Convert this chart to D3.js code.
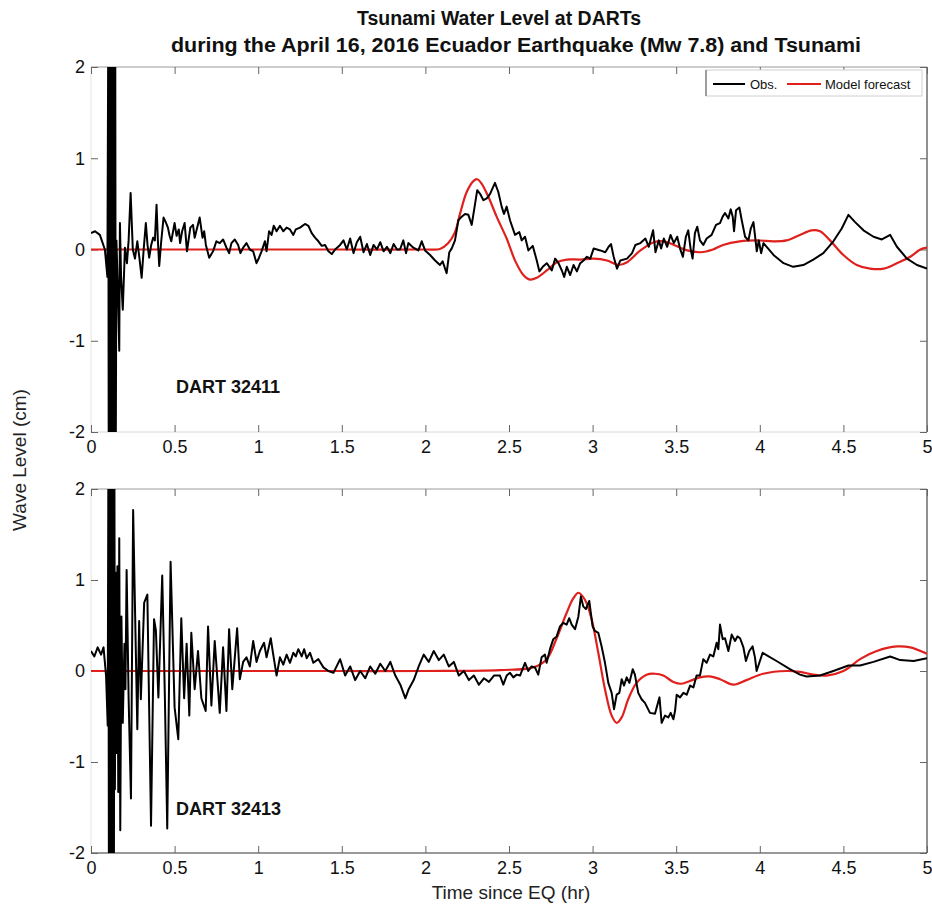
<!DOCTYPE html>
<html>
<head>
<meta charset="utf-8">
<script src="https://cdn.jsdelivr.net/npm/d3@7"></script>
<style>
  html, body { margin: 0; padding: 0; background: #fff; }
  svg { display: block; font-family: "Liberation Sans", Arial, Helvetica, sans-serif; }
</style>
</head>
<body>
<svg id="chart" width="932" height="907"></svg>
<script>
// ---------------- DATA ----------------
const titleLines = ["Tsunami Water Level at DARTs",
  "during the April 16, 2016 Ecuador Earthquake (Mw 7.8) and Tsunami"];
const stationNames = ["DART 32411", "DART 32413"];
const seriesNames = ["Obs.", "Model forecast"];
const xTicks = [0, 0.5, 1, 1.5, 2, 2.5, 3, 3.5, 4, 4.5, 5];
const yTicks = [-2, -1, 0, 1, 2];

// DART 32411 observed [time hr, level cm]
const obs1 = [
[0,0.18],[0.024,0.2],[0.053,0.16],[0.083,0],[0.098,-0.3],
[0.103,2.3],[0.106,-2.3],[0.109,2.3],[0.112,-2.3],[0.115,2.3],[0.118,-2.3],[0.121,2.3],[0.124,-2.3],
[0.127,2.3],[0.130,-2.3],[0.133,2.3],[0.136,-2.3],[0.139,2.3],[0.142,-2.3],[0.145,2.3],[0.148,-2.3],
[0.152,0.1],[0.16,-0.4],[0.169,-1.11],[0.173,0.29],[0.18,-0.3],[0.19,-0.66],[0.203,0.02],[0.215,-0.15],
[0.225,0.1],[0.237,0.62],[0.25,0.0],[0.263,-0.1],[0.277,0.09],[0.29,-0.1],[0.303,-0.31],[0.315,0.0],
[0.328,0.29],[0.338,0.05],[0.348,-0.09],[0.36,0.05],[0.372,0.13],[0.382,0.1],[0.392,0.49],[0.4,0.1],
[0.408,-0.18],[0.42,0.09],[0.434,0.35],[0.447,0.3],[0.46,0.24],[0.47,0.15],[0.48,0.09],[0.5,0.29],
[0.512,0.15],[0.525,0.22],[0.533,0.07],[0.545,0.2],[0.56,0.29],[0.574,-0.02],[0.594,0.24],[0.61,0.27],
[0.62,0.13],[0.65,0.35],[0.667,0.13],[0.677,0.2],[0.687,0.05],[0.707,-0.09],[0.73,-0.02],[0.75,0.09],
[0.77,0.07],[0.79,0.11],[0.81,0.02],[0.826,-0.04],[0.84,0.07],[0.86,0.11],[0.88,0.05],[0.894,-0.04],
[0.91,0.02],[0.93,0.07],[0.95,0],[0.97,-0.02],[0.99,-0.15],[1.005,-0.09],[1.02,-0.02],[1.04,0.09],
[1.05,-0.02],[1.065,0.2],[1.08,0.16],[1.093,0.26],[1.11,0.2],[1.13,0.26],[1.15,0.2],[1.17,0.24],
[1.19,0.22],[1.21,0.16],[1.225,0.22],[1.25,0.24],[1.28,0.28],[1.3,0.26],[1.32,0.18],[1.34,0.13],
[1.36,0.09],[1.38,0.04],[1.4,0.05],[1.42,-0.02],[1.44,-0.05],[1.46,0],[1.49,0.05],
[1.51,0.1],[1.53,0.0],[1.55,0.12],[1.57,-0.04],[1.59,0.08],[1.61,0.14],[1.63,-0.03],[1.65,0.06],
[1.67,-0.06],[1.69,0.05],[1.71,0.0],[1.73,0.08],[1.75,-0.02],[1.77,0.03],[1.79,-0.04],[1.81,0.06],
[1.83,0.0],[1.848,0],[1.868,0.1],[1.884,-0.04],[1.898,0.07],[1.928,0.02],[1.958,-0.01],[1.978,0.09],
[1.998,-0.01],[2.028,-0.06],[2.058,-0.12],[2.087,-0.17],[2.103,-0.13],[2.127,-0.26],[2.143,-0.03],
[2.157,0.01],[2.177,0.1],[2.197,0.32],[2.217,0.36],[2.237,0.39],[2.257,0.38],[2.277,0.27],[2.297,0.5],
[2.31,0.65],[2.327,0.61],[2.347,0.54],[2.367,0.56],[2.387,0.61],[2.416,0.73],[2.436,0.63],[2.456,0.47],
[2.47,0.39],[2.486,0.47],[2.506,0.32],[2.536,0.16],[2.562,0.19],[2.576,0.1],[2.596,0.14],[2.616,-0.01],
[2.642,0.04],[2.666,-0.12],[2.682,-0.24],[2.702,-0.19],[2.726,-0.15],[2.756,-0.23],[2.776,-0.1],
[2.796,-0.15],[2.816,-0.23],[2.83,-0.3],[2.846,-0.19],[2.866,-0.28],[2.886,-0.17],[2.906,-0.24],
[2.926,-0.15],[2.946,-0.12],[2.966,-0.08],[2.986,-0.1],[3.006,0.01],[3.046,-0.01],[3.076,-0.03],
[3.096,0.03],[3.11,0.06],[3.126,-0.08],[3.146,-0.21],[3.166,-0.12],[3.206,-0.1],[3.236,-0.04],
[3.256,0.05],[3.286,0.07],[3.316,0.12],[3.336,0.03],[3.362,0.21],[3.376,-0.03],[3.396,0.1],[3.41,0.01],
[3.426,0.12],[3.446,0.03],[3.466,0.16],[3.486,0.07],[3.506,0.14],[3.523,0.01],[3.54,-0.08],[3.558,0.14],
[3.572,0.21],[3.586,0.01],[3.598,-0.1],[3.612,0.18],[3.626,0.25],[3.642,0.1],[3.662,0.05],[3.682,0.12],
[3.712,0.16],[3.738,0.27],[3.762,0.29],[3.778,0.36],[3.792,0.4],[3.812,0.34],[3.826,0.44],[3.838,0.36],
[3.846,0.2],[3.858,0.43],[3.878,0.46],[3.892,0.32],[3.912,0.14],[3.932,0.1],[3.946,0.23],[3.962,0.3],
[3.972,0.14],[3.982,-0.02],[3.994,0.1],[4.008,-0.04],[4.022,0.07],[4.082,-0.06],[4.142,-0.15],
[4.2,-0.19],[4.26,-0.17],[4.32,-0.11],[4.38,-0.04],[4.44,0.09],[4.49,0.23],[4.53,0.38],[4.57,0.3],
[4.62,0.21],[4.68,0.14],[4.73,0.11],[4.78,0.16],[4.82,0.03],[4.88,-0.1],[4.94,-0.17],[5.0,-0.21]
];

// DART 32411 model forecast
const model1 = [
[0,0],[0.5,0],[1,0],[1.5,0],[2.0,0],[2.087,0.005],[2.137,0.07],[2.177,0.19],[2.207,0.39],[2.247,0.63],
[2.287,0.75],[2.31,0.77],[2.337,0.72],[2.376,0.58],[2.426,0.36],[2.486,0.12],[2.536,-0.12],[2.586,-0.28],
[2.626,-0.33],[2.666,-0.31],[2.726,-0.23],[2.786,-0.14],[2.846,-0.11],[2.926,-0.11],[3.006,-0.1],
[3.086,-0.12],[3.156,-0.17],[3.206,-0.14],[3.286,-0.01],[3.366,0.08],[3.426,0.09],[3.486,0.05],
[3.566,-0.01],[3.646,-0.03],[3.72,0.0],[3.78,0.05],[3.88,0.09],[3.982,0.1],[4.082,0.09],[4.16,0.1],
[4.24,0.16],[4.31,0.21],[4.36,0.2],[4.42,0.1],[4.5,-0.06],[4.58,-0.17],[4.66,-0.21],[4.74,-0.21],
[4.82,-0.15],[4.9,-0.08],[4.96,0.0],[5.0,0.02]
];

// DART 32413 observed
const obs2 = [
[0,0.22],[0.02,0.16],[0.04,0.26],[0.06,0.18],[0.075,0.26],[0.09,-0.05],[0.1,-0.6],
[0.104,2.3],[0.107,-2.3],[0.110,2.3],[0.113,-2.3],[0.116,2.3],[0.119,-2.3],[0.122,2.3],[0.125,-2.3],
[0.128,2.3],[0.131,-2.3],[0.134,2.3],[0.137,-2.3],[0.140,2.3],[0.143,-1.3],
[0.148,1.08],[0.153,-0.9],[0.158,1.15],[0.163,-1.33],[0.169,1.46],[0.175,-1.75],[0.182,0.6],
[0.19,-0.57],[0.2,0.3],[0.206,-0.2],[0.213,1.11],[0.225,-0.3],[0.239,-1.4],[0.252,1.77],
[0.277,-0.64],[0.288,0.55],[0.298,-0.31],[0.318,0.75],[0.337,0.84],[0.359,-1.7],[0.377,0.57],
[0.388,0.45],[0.403,-0.29],[0.426,1.05],[0.442,-0.3],[0.456,-1.73],[0.476,1.2],[0.5,-0.4],
[0.522,-0.75],[0.54,0.58],[0.557,-0.3],[0.572,0.3],[0.588,-0.49],[0.6,0.42],[0.62,-0.2],[0.64,0.22],
[0.66,-0.3],[0.686,-0.44],[0.7,0.49],[0.72,-0.38],[0.74,0.33],[0.77,-0.46],[0.79,0.26],[0.81,-0.44],
[0.826,0.46],[0.845,-0.2],[0.874,0.47],[0.89,-0.09],[0.91,0.1],[0.93,0.15],[0.95,0.05],[0.97,0.33],
[0.99,0.1],[1.01,0.22],[1.035,0.31],[1.05,0.15],[1.075,0.36],[1.09,0.18],[1.11,-0.05],[1.13,0.15],
[1.15,0.07],[1.17,0.18],[1.19,0.09],[1.21,0.2],[1.225,0.16],[1.24,0.24],[1.26,0.16],[1.275,0.24],
[1.29,0.14],[1.31,0.2],[1.33,0.09],[1.36,0.13],[1.39,0.04],[1.42,0],[1.45,-0.02],[1.49,0.13],
[1.52,-0.05],[1.55,0.05],[1.58,-0.1],[1.61,0.0],[1.64,-0.08],[1.67,0.05],[1.70,-0.03],[1.73,0.08],
[1.76,0.0],[1.79,0.1],[1.82,-0.05],[1.85,-0.15],[1.88,-0.3],[1.90,-0.2],[1.93,-0.1],[1.96,0.05],
[1.99,0.18],[2.02,0.1],[2.05,0.22],[2.08,0.12],[2.11,0.18],[2.14,0.05],[2.17,0.1],[2.2,-0.05],
[2.23,0.0],[2.26,-0.1],[2.29,-0.05],[2.32,-0.15],[2.35,-0.08],[2.38,-0.12],[2.41,-0.05],[2.446,-0.05],
[2.466,-0.15],[2.486,-0.05],[2.506,-0.02],[2.526,-0.07],[2.546,-0.04],[2.566,-0.05],[2.596,0.09],
[2.615,0],[2.635,0.05],[2.655,0.04],[2.675,-0.04],[2.695,0.15],[2.715,0.18],[2.725,0.09],[2.745,0.24],
[2.765,0.35],[2.785,0.38],[2.805,0.49],[2.825,0.53],[2.845,0.51],[2.86,0.58],[2.875,0.51],[2.895,0.46],
[2.915,0.6],[2.93,0.82],[2.944,0.71],[2.96,0.68],[2.98,0.77],[3.0,0.49],[3.014,0.44],[3.034,0.42],
[3.054,0.27],[3.074,0.09],[3.094,-0.13],[3.114,-0.24],[3.128,-0.42],[3.144,-0.26],[3.16,-0.24],
[3.174,-0.09],[3.188,-0.16],[3.204,-0.07],[3.22,-0.13],[3.24,0.02],[3.253,-0.04],[3.273,-0.24],
[3.293,-0.31],[3.313,-0.35],[3.343,-0.46],[3.373,-0.47],[3.4,-0.29],[3.413,-0.57],[3.433,-0.49],
[3.453,-0.51],[3.467,-0.46],[3.483,-0.53],[3.493,-0.44],[3.503,-0.26],[3.523,-0.29],[3.543,-0.24],
[3.563,-0.26],[3.583,-0.16],[3.603,-0.18],[3.622,-0.05],[3.642,-0.05],[3.662,0.13],[3.682,0.09],
[3.702,0.18],[3.722,0.16],[3.742,0.31],[3.752,0.24],[3.762,0.51],[3.778,0.35],[3.792,0.36],[3.812,0.22],
[3.832,0.4],[3.852,0.33],[3.866,0.38],[3.882,0.36],[3.902,0.26],[3.917,0.11],[3.937,0.22],[3.957,0.27],
[3.971,0.15],[3.981,0],[4.017,0.2],[4.1,0.11],[4.18,0.02],[4.24,-0.04],[4.28,-0.06],[4.36,-0.05],
[4.44,0],[4.53,0.06],[4.6,0.06],[4.68,0.1],[4.78,0.16],[4.84,0.12],[4.92,0.11],[5.0,0.14]
];

// DART 32413 model forecast
const model2 = [
[0,0],[0.5,0],[1,0],[1.5,0],[2.0,0],[2.446,0.01],[2.645,0.04],[2.725,0.13],[2.785,0.36],[2.845,0.64],
[2.885,0.8],[2.915,0.86],[2.955,0.78],[2.994,0.57],[3.034,0.2],[3.074,-0.2],[3.114,-0.49],[3.144,-0.57],
[3.174,-0.51],[3.213,-0.31],[3.263,-0.13],[3.323,-0.04],[3.373,-0.03],[3.423,-0.05],[3.483,-0.12],
[3.532,-0.14],[3.582,-0.11],[3.642,-0.07],[3.702,-0.06],[3.762,-0.09],[3.842,-0.15],[3.92,-0.1],
[4.02,-0.03],[4.16,0],[4.24,-0.01],[4.32,-0.04],[4.4,-0.05],[4.5,0],[4.6,0.13],[4.7,0.22],[4.82,0.27],
[4.9,0.26],[5.0,0.19]
];

// ---------------- DRAWING ----------------
const svg = d3.select("#chart");
const RED = "#e0201c";
const x = d3.scaleLinear().domain([0, 5]).range([91, 927]);
const panels = [
  { obs: obs1, model: model1, name: stationNames[0], y: d3.scaleLinear().domain([-2, 2]).range([432, 67]),
    labelY: 393, bottomColor: "#d8d8d8", legend: true },
  { obs: obs2, model: model2, name: stationNames[1], y: d3.scaleLinear().domain([-2, 2]).range([853, 489]),
    labelY: 815, bottomColor: "#333", legend: false }
];
const fmt = d => String(d);   // plain hyphen-minus like the original

panels.forEach((p, i) => {
  const y = p.y;
  const [x0, x1] = x.range();
  const [yb, yt] = y.range();
  const g = svg.append("g");

  const clipId = "clip" + i;
  svg.append("clipPath").attr("id", clipId).append("rect")
    .attr("x", x0).attr("y", yt).attr("width", x1 - x0).attr("height", yb - yt);

  // frame
  g.append("line").attr("x1", x0).attr("x2", x1).attr("y1", yt).attr("y2", yt).attr("stroke", "#9a9a9a").attr("stroke-width", 1);
  g.append("line").attr("x1", x0).attr("x2", x1).attr("y1", yb).attr("y2", yb).attr("stroke", p.bottomColor).attr("stroke-width", 1);
  g.append("line").attr("x1", x0).attr("x2", x0).attr("y1", yt).attr("y2", yb).attr("stroke", "#e4e4e4").attr("stroke-width", 1);
  g.append("line").attr("x1", x1).attr("x2", x1).attr("y1", yt).attr("y2", yb).attr("stroke", "#222").attr("stroke-width", 1);

  // axes (ticks inward)
  const bottom = g.append("g").attr("transform", `translate(0,${yb})`)
    .call(d3.axisBottom(x).tickValues(xTicks).tickSizeInner(-7).tickSizeOuter(0).tickPadding(12).tickFormat(fmt));
  const top = g.append("g").attr("transform", `translate(0,${yt})`)
    .call(d3.axisTop(x).tickValues(xTicks).tickSizeInner(-7).tickSizeOuter(0).tickFormat(""));
  const left = g.append("g").attr("transform", `translate(${x0},0)`)
    .call(d3.axisLeft(y).tickValues(yTicks).tickSizeInner(-7).tickSizeOuter(0).tickPadding(6).tickFormat(fmt));
  const right = g.append("g").attr("transform", `translate(${x1},0)`)
    .call(d3.axisRight(y).tickValues(yTicks).tickSizeInner(-7).tickSizeOuter(0).tickFormat(""));
  [bottom, top, left, right].forEach(a => {
    a.select(".domain").remove();
    a.selectAll(".tick line").attr("stroke", "#666").attr("stroke-width", 1);
  });
  bottom.selectAll(".tick text").attr("font-size", 18).attr("fill", "#111")
    .attr("font-family", "Liberation Sans, Arial, sans-serif").attr("dy", "0.5em");
  left.selectAll(".tick text").attr("font-size", 18).attr("fill", "#111")
    .attr("font-family", "Liberation Sans, Arial, sans-serif");

  const plot = g.append("g").attr("clip-path", `url(#${clipId})`);
  // model
  plot.append("path").datum(p.model)
    .attr("fill", "none").attr("stroke", RED).attr("stroke-width", 2.2)
    .attr("d", d3.line().x(d => x(d[0])).y(d => y(d[1])).curve(d3.curveCatmullRom.alpha(0.5)));
  // observed
  plot.append("path").datum(p.obs)
    .attr("fill", "none").attr("stroke", "#000").attr("stroke-width", 2).attr("stroke-linejoin", "round")
    .attr("d", d3.line().x(d => x(d[0])).y(d => y(d[1])));

  g.append("text").attr("x", 176).attr("y", p.labelY)
    .attr("font-size", 18).attr("font-weight", "bold").attr("fill", "#111").text(p.name);

  if (p.legend) {
    const lg = g.append("g");
    lg.append("rect").attr("x", 706).attr("y", 70).attr("width", 216).attr("height", 26)
      .attr("fill", "#fff").attr("stroke", "#d0d0d0").attr("stroke-width", 1);
    lg.append("line").attr("x1", 706).attr("x2", 706).attr("y1", 70).attr("y2", 96).attr("stroke", "#555");
    const ly = 84;
    lg.append("line").attr("x1", 713).attr("x2", 745).attr("y1", ly).attr("y2", ly).attr("stroke", "#000").attr("stroke-width", 2);
    lg.append("text").attr("x", 750).attr("y", ly + 4.5).attr("font-size", 13).attr("fill", "#111").text(seriesNames[0]);
    lg.append("line").attr("x1", 787).attr("x2", 821).attr("y1", ly).attr("y2", ly).attr("stroke", RED).attr("stroke-width", 2.2);
    lg.append("text").attr("x", 825).attr("y", ly + 4.5).attr("font-size", 13).attr("fill", "#111").text(seriesNames[1]);
  }
});

// titles
svg.append("text").attr("x", 357).attr("y", 25)
  .attr("font-size", 20).attr("font-weight", "bold").attr("fill", "#111")
  .attr("textLength", 284).attr("lengthAdjust", "spacingAndGlyphs").text(titleLines[0]);
svg.append("text").attr("x", 171).attr("y", 52)
  .attr("font-size", 20).attr("font-weight", "bold").attr("fill", "#111")
  .attr("textLength", 690).attr("lengthAdjust", "spacingAndGlyphs").text(titleLines[1]);

// axis labels
svg.append("text").attr("transform", "translate(26,460) rotate(-90)").attr("text-anchor", "middle")
  .attr("font-size", 19).attr("fill", "#222").text("Wave Level (cm)");
svg.append("text").attr("x", 511).attr("y", 899).attr("text-anchor", "middle")
  .attr("font-size", 19).attr("fill", "#222").text("Time since EQ (hr)");
</script>
</body>
</html>
